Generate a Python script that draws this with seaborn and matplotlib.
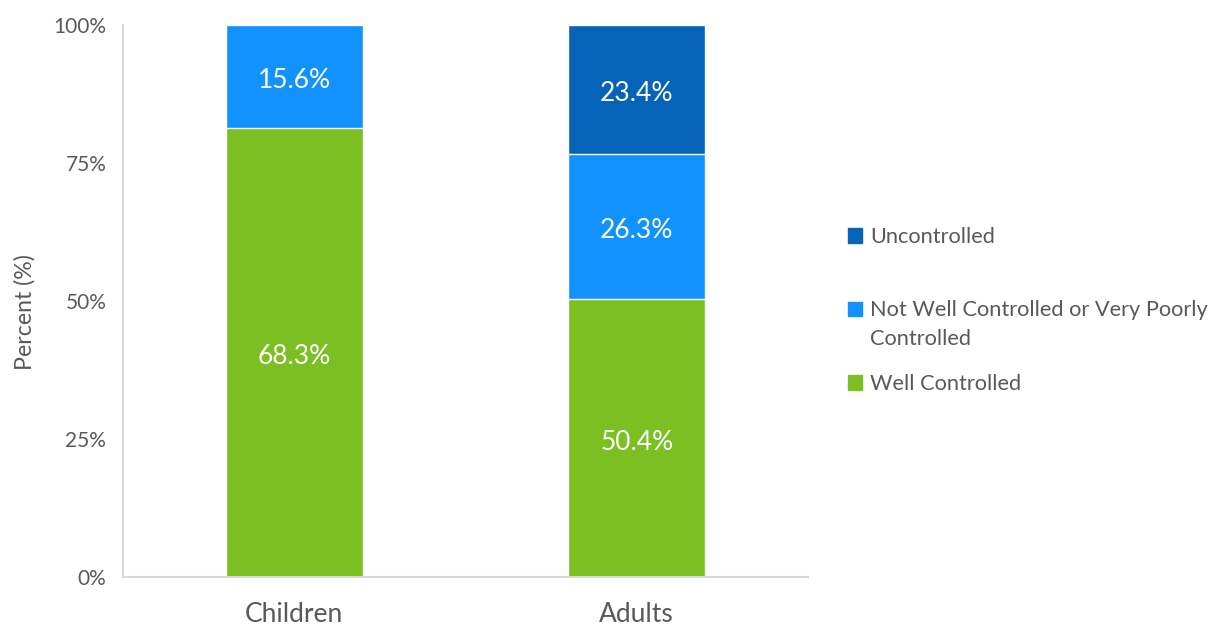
import matplotlib
matplotlib.use("Agg")
import matplotlib.pyplot as plt
import seaborn as sns
import pandas as pd
import numpy as np
from matplotlib.patches import Patch

categories = ["Children", "Adults"]
series_names = ["Well Controlled", "Not Well Controlled or Very Poorly Controlled", "Uncontrolled"]
well_controlled = [68.3, 50.4]
not_well_controlled = [15.6, 26.3]
uncontrolled = [0.0, 23.4]
colors = ["#7BBF22", "#1192FF", "#0563B8"]
y_ticks = [0, 25, 50, 75, 100]
y_tick_labels = ["0%", "25%", "50%", "75%", "100%"]

sns.set_theme(style="white")
plt.rcParams["font.family"] = ["Lato", "DejaVu Sans"]

vals = np.array([well_controlled, not_well_controlled, uncontrolled])
shares = vals / vals.sum(axis=0) * 100
cum = np.cumsum(shares, axis=0)

fig = plt.figure(figsize=(12.11, 6.26), dpi=100)
ax = fig.add_axes([123 / 1211, 1 - 577 / 626, (808 - 123) / 1211, (577 - 25) / 626])

# draw from top layer down so lower layers overlay
for i in [2, 1, 0]:
    df = pd.DataFrame({"cat": categories, "top": cum[i]})
    sns.barplot(data=df, x="cat", y="top", color=colors[i], width=0.4,
                saturation=1, ax=ax, order=categories)

txt_color = "#595959"
for j, cat in enumerate(categories):
    bottom = 0
    for i in range(3):
        if vals[i, j] > 0:
            mid = bottom + shares[i, j] / 2
            ax.annotate(f"{vals[i, j]:.1f}%", xy=(j, mid), xytext=(0, -3),
                        textcoords="offset points", ha="center", va="center",
                        color="white", fontsize=19)
        bottom += shares[i, j]

ax.set_xlim(-0.5, 1.5)
ax.set_ylim(0, 100)
ax.set_yticks(y_ticks)
ax.set_yticklabels(y_tick_labels, color=txt_color, fontsize=15)
ax.set_xlabel("")
ax.set_ylabel("Percent (%)", color=txt_color, fontsize=16.7)
ax.yaxis.set_label_coords(-0.128, 0.48)
ax.tick_params(axis="x", length=0, pad=18, labelsize=19, labelcolor=txt_color)
ax.tick_params(axis="y", direction="inout", length=14, width=1.2, color="#D9D9D9", pad=5)
for s in ["top", "right"]:
    ax.spines[s].set_visible(False)
for s in ["left", "bottom"]:
    ax.spines[s].set_color("#D9D9D9")
    ax.spines[s].set_linewidth(1.5)

lx = 848 / 1211
leg_kw = dict(frameon=False, fontsize=15.7, handlelength=0.65, handleheight=0.65,
              handletextpad=0.35, borderpad=0, borderaxespad=0, labelcolor=txt_color)
l1 = fig.legend(handles=[Patch(color=colors[2])], labels=["Uncontrolled"],
                loc="center left", bbox_to_anchor=(lx, 1 - 237 / 626), **leg_kw)
l2 = fig.legend(handles=[Patch(color=colors[1]), Patch(color="none")],
                labels=["Not Well Controlled or Very Poorly", "Controlled"],
                loc="center left", bbox_to_anchor=(lx, 1 - 324.5 / 626), labelspacing=0.37, **leg_kw)
l3 = fig.legend(handles=[Patch(color=colors[0])], labels=["Well Controlled"],
                loc="center left", bbox_to_anchor=(lx, 1 - 384 / 626), **leg_kw)

fig.savefig("out.png", dpi=100)
